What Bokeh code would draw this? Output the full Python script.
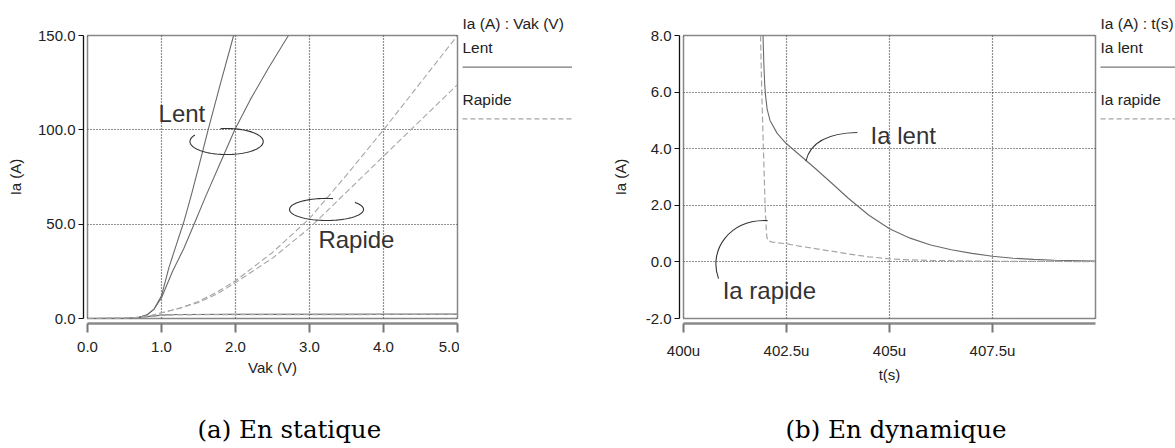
import numpy as np
from bokeh.plotting import figure
from bokeh.models import (Range1d, LinearAxis, FixedTicker, CustomJSTickFormatter, Grid, Label, Title)
from bokeh.layouts import row
from bokeh.embed import file_html
from bokeh.resources import INLINE

# ---------------- (a) En statique : Ia (A) vs Vak (V) ----------------
vak_lent_1 = [0.0, 0.5, 0.6, 0.7, 0.8, 0.9, 1.0, 1.1, 1.2, 1.3, 1.4, 1.5, 1.63, 1.8, 1.975]
ia_lent_1 = [0.0, 0.05, 0.2, 0.6, 1.8, 5.0, 12.0, 27.0, 39.0, 51.0, 65.0, 80.0, 100.0, 125.0, 150.0]
vak_lent_2 = [0.0, 0.5, 0.6, 0.7, 0.8, 0.9, 1.0, 1.15, 1.3, 1.44, 1.6, 1.8, 1.99, 2.2, 2.45, 2.715]
ia_lent_2 = [0.0, 0.05, 0.2, 0.6, 1.8, 5.0, 11.0, 25.0, 37.0, 50.0, 65.0, 83.0, 100.0, 116.0, 133.0, 150.0]
vak_lent_low = [0.0, 0.6, 0.8, 1.0, 1.2, 2.0, 5.0]
ia_lent_low = [0.0, 0.2, 1.0, 1.8, 2.1, 2.2, 2.3]

vak_rap_1 = [0.0, 0.5, 0.7, 0.85, 1.0, 1.25, 1.5, 1.75, 2.0, 2.5, 3.0, 3.5, 4.0, 4.5, 5.0]
ia_rap_1 = [0.0, 0.1, 0.6, 1.5, 3.0, 5.5, 9.0, 14.0, 20.0, 35.0, 53.0, 76.0, 100.0, 125.0, 150.0]
vak_rap_2 = [0.0, 0.5, 0.7, 0.85, 1.0, 1.25, 1.5, 1.75, 2.0, 2.5, 3.0, 3.5, 4.0, 4.5, 5.0]
ia_rap_2 = [0.0, 0.1, 0.6, 1.5, 3.0, 5.5, 8.5, 13.0, 19.0, 32.0, 48.0, 67.0, 86.0, 105.0, 124.0]
vak_rap_low = [0.0, 0.6, 0.8, 1.0, 1.2, 2.0, 5.0]
ia_rap_low = [0.0, 0.2, 0.9, 1.7, 2.0, 2.1, 2.2]

a_xticks = [0, 1, 2, 3, 4, 5]
a_xlabels = ["0.0", "1.0", "2.0", "3.0", "4.0", "5.0"]
a_yticks = [0, 50, 100, 150]
a_ylabels = ["0.0", "50.0", "100.0", "150.0"]

# ---------------- (b) En dynamique : Ia (A) vs t (us) ----------------
t_lent = [401.93, 401.95, 401.97, 401.99, 402.03, 402.1, 402.27, 402.48, 402.84, 403.2, 403.6,
          404.0, 404.5, 405.0, 405.5, 406.0, 406.5, 407.0, 407.5, 408.0, 408.5, 409.0, 410.0]
ia_lent = [8.0, 7.0, 6.3, 5.9, 5.4, 5.0, 4.55, 4.2, 3.75, 3.3, 2.78,
           2.25, 1.65, 1.17, 0.84, 0.6, 0.43, 0.3, 0.2, 0.13, 0.09, 0.06, 0.03]
t_rapide = [401.87, 401.9, 401.94, 401.98, 402.0, 402.02, 402.05, 402.15, 402.5, 402.84, 403.5,
            404.0, 404.5, 405.0, 405.5, 406.0, 407.0, 408.0, 410.0]
ia_rapide = [8.0, 6.0, 4.0, 2.0, 1.4, 0.9, 0.75, 0.7, 0.64, 0.55, 0.4,
             0.28, 0.18, 0.11, 0.07, 0.05, 0.03, 0.02, 0.01]

b_xticks = [400, 402.5, 405, 407.5]
b_xlabels = ["400u", "402.5u", "405u", "407.5u"]
b_yticks = [-2, 0, 2, 4, 6, 8]
b_ylabels = ["-2.0", "0.0", "2.0", "4.0", "6.0", "8.0"]

# ---------------- styles / layout ----------------
SANS = "Liberation Sans"
SERIF = "DejaVu Serif"
C_LENT = "#6a6a6a"
C_RAP = "#a6a6a6"
DASH_RAP = "6 3"
H = 448
TOP = 35          # frame top (px)
FRAME_H = 283     # frame height (px)
BOTTOM = H - TOP - FRAME_H


def fmt(ticks, labels):
    return CustomJSTickFormatter(args=dict(tv=list(ticks), tl=list(labels)),
                                 code="const i = tv.indexOf(tick); return i >= 0 ? tl[i] : '';")


def spacer_axis(size, at):
    # invisible axis used only to leave a gap of `size` px; its single tick must lie in range
    return LinearAxis(ticker=FixedTicker(ticks=[at]),
                      formatter=CustomJSTickFormatter(code="return '';"),
                      axis_line_color=None, major_tick_line_color=None,
                      major_tick_out=size, major_tick_in=0, minor_tick_out=0, minor_tick_in=0,
                      major_label_standoff=0, major_label_text_font_size="1px")


def style_axis(ax):
    ax.major_tick_in = 0
    ax.minor_tick_out = 0
    ax.minor_tick_in = 0
    ax.major_label_text_font = SANS
    ax.major_label_text_font_size = "15px"
    ax.major_label_text_color = "#222222"
    ax.axis_label_text_font = SANS
    ax.axis_label_text_font_size = "15px"
    ax.axis_label_text_font_style = "normal"
    ax.axis_label_text_color = "#222222"


def panel(width, left_border, xr, yr, xt, xl, yt, yl, xlab, ylab, ylab_standoff,
          caption, cap_offset, gap_axis, gap_caption):
    p = figure(width=width, height=H, x_range=xr, y_range=yr,
               x_axis_type=None, y_axis_type=None,
               output_backend="svg", toolbar_location=None,
               min_border_left=left_border, min_border_right=2,
               min_border_top=TOP, min_border_bottom=BOTTOM)
    p.background_fill_color = "white"
    p.border_fill_color = "white"
    p.outline_line_color = "#111111"
    p.outline_line_width = 1.5
    p.outline_line_dash = "1 1"

    xmid = 0.5 * (xr.start + xr.end)
    ymid = 0.5 * (yr.start + yr.end)

    p.add_layout(spacer_axis(4, ymid), "left")
    yax = LinearAxis(ticker=FixedTicker(ticks=yt), formatter=fmt(yt, yl), axis_label=ylab)
    style_axis(yax)
    yax.axis_line_color = "#111111"
    yax.axis_line_width = 1.3
    yax.major_tick_line_color = "#111111"
    yax.major_tick_out = 5
    yax.major_label_standoff = 3
    yax.axis_label_standoff = ylab_standoff
    p.add_layout(yax, "left")

    p.add_layout(spacer_axis(gap_axis, xmid), "below")
    xax = LinearAxis(ticker=FixedTicker(ticks=xt), formatter=fmt(xt, xl), axis_label=xlab)
    style_axis(xax)
    xax.axis_line_color = "#8a8a8a"
    xax.axis_line_width = 2.5
    xax.major_tick_line_color = "#777777"
    xax.major_tick_line_width = 2
    xax.major_tick_out = 9
    xax.major_label_standoff = 9
    xax.axis_label_standoff = 4
    p.add_layout(xax, "below")
    p.add_layout(spacer_axis(gap_caption, xmid), "below")

    p.add_layout(Title(text=caption, align="left", offset=cap_offset, standoff=2,
                       text_font=SERIF, text_font_size="24.5px", text_font_style="normal",
                       text_color="black"), "below")

    for dim, ticks in ((0, xt), (1, yt)):
        p.add_layout(Grid(dimension=dim, ticker=FixedTicker(ticks=ticks),
                          grid_line_color="#222222", grid_line_width=1.2, grid_line_dash="1 2"))
    return p


def label(p, x, y, text, size="24px", color="#333333"):
    p.add_layout(Label(x=x, y=y, text=text, text_font=SANS, text_font_size=size,
                       text_color=color, text_align="left", text_baseline="middle"))


def open_ellipse(p, cx, cy, w, h, gap_from, gap_to):
    ang = np.radians(np.linspace(gap_to, gap_from + 360, 90))
    p.line(cx + 0.5 * w * np.cos(ang), cy + 0.5 * h * np.sin(ang),
           line_color="#333333", line_width=1.1)


# ---------------- panel (a) ----------------
pa = panel(459, 87, Range1d(0, 5), Range1d(0, 150), a_xticks, a_xlabels, a_yticks, a_ylabels,
           "Vak (V)", "Ia (A)", 11, "(a) En statique", 110, 5, 33)
pa.line(vak_lent_1, ia_lent_1, line_color=C_LENT, line_width=1.1)
pa.line(vak_lent_2, ia_lent_2, line_color=C_LENT, line_width=1.1)
pa.line(vak_lent_low, ia_lent_low, line_color=C_LENT, line_width=1.1)
pa.line(vak_rap_1, ia_rap_1, line_color=C_RAP, line_width=1.1, line_dash=DASH_RAP)
pa.line(vak_rap_2, ia_rap_2, line_color=C_RAP, line_width=1.1, line_dash=DASH_RAP)
pa.line(vak_rap_low, ia_rap_low, line_color=C_RAP, line_width=1.4, line_dash=DASH_RAP)
open_ellipse(pa, 1.88, 93.8, 0.99, 13.8, 100, 150)
open_ellipse(pa, 3.23, 57.8, 1.0, 11.7, 40, 80)
label(pa, 0.96, 108.5, "Lent")
label(pa, 3.12, 42.0, "Rapide")

# ---------------- panel (b) ----------------
pb = panel(525, 111, Range1d(400, 410), Range1d(-2, 8), b_xticks, b_xlabels, b_yticks, b_ylabels,
           "t(s)", "Ia (A)", 14, "(b) En dynamique", 102, 5, 26)
pb.line(t_lent, ia_lent, line_color=C_LENT, line_width=1.1)
pb.line(t_rapide, ia_rapide, line_color=C_RAP, line_width=1.2, line_dash=DASH_RAP)
pb.quadratic(x0=[404.22], y0=[4.57], x1=[402.97], y1=[3.56], cx=[403.13], cy=[4.54],
             line_color="#333333", line_width=1.1)
pb.bezier(x0=[402.04], y0=[1.46], x1=[400.85], y1=[-0.59], cx0=[401.1], cy0=[1.5],
          cx1=[400.6], cy1=[0.4], line_color="#333333", line_width=1.1)
label(pb, 404.54, 4.47, "Ia lent")
label(pb, 400.95, -1.0, "Ia rapide")


# ---------------- side legends (frame aligned with the panels: y in page px) ----------------
def legend_panel(width, title, names):
    q = figure(width=width, height=H, x_range=Range1d(0, width), y_range=Range1d(TOP + FRAME_H, TOP),
               x_axis_type=None, y_axis_type=None, output_backend="svg", toolbar_location=None,
               min_border_left=0, min_border_right=0, min_border_top=TOP, min_border_bottom=BOTTOM)
    q.outline_line_color = None
    q.background_fill_color = "white"
    q.border_fill_color = "white"
    q.add_layout(Title(text=title, align="left", offset=3, standoff=7,
                       text_font=SANS, text_font_size="15.5px", text_font_style="normal",
                       text_color="#222222"), "above")
    x0 = 3
    label(q, x0, 47, names[0], size="15.5px", color="#222222")
    q.line([x0, width], [66.7, 66.7], line_color="#777777", line_width=1.2)
    label(q, x0, 99, names[1], size="15.5px", color="#222222")
    q.line([x0, width], [118.3, 118.3], line_color=C_RAP, line_width=1.2, line_dash="5 3")
    return q


la = legend_panel(113, "Ia (A) : Vak (V)", ["Lent", "Rapide"])
lb = legend_panel(78, "Ia (A) : t(s)", ["Ia lent", "Ia rapide"])

layout = row(pa, la, pb, lb, spacing=0)
open("out.html", "w").write(file_html(layout, INLINE))
